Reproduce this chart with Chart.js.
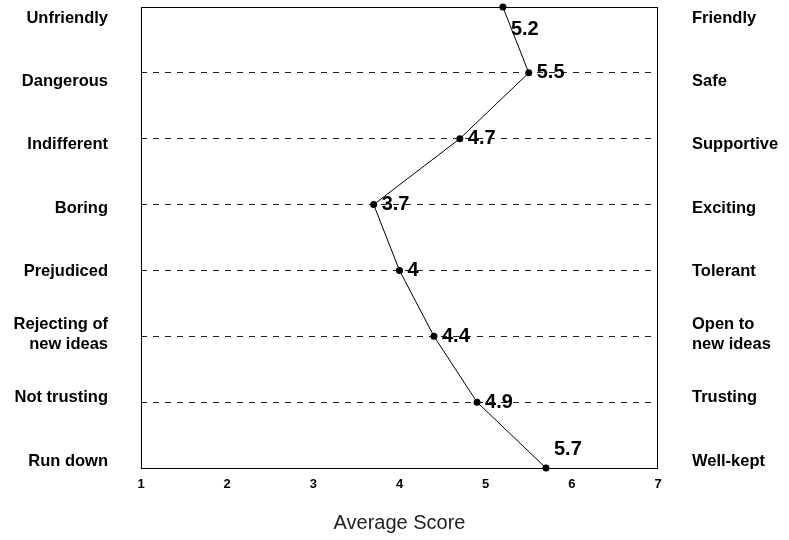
<!DOCTYPE html>
<html lang="en">
<head>
    <meta charset="UTF-8">
    <title>Average Score</title>
    <style>
        body { margin: 0; background: #fff; }
        canvas { display: block; }
    </style>
</head>
<body>
    <canvas id="grafico" width="789" height="540"></canvas>

    <script src="https://cdn.jsdelivr.net/npm/chart.js@4.4.1/dist/chart.umd.min.js"></script>
    <script>
        // dados
        var leftLabels = ['Unfriendly', 'Dangerous', 'Indifferent', 'Boring', 'Prejudiced', ['Rejecting of', 'new ideas'], 'Not trusting', 'Run down'];
        var rightLabels = ['Friendly', 'Safe', 'Supportive', 'Exciting', 'Tolerant', ['Open to', 'new ideas'], 'Trusting', 'Well-kept'];
        var scores = [5.2, 5.5, 4.7, 3.7, 4, 4.4, 4.9, 5.7];
        var scoreTicks = [1, 2, 3, 4, 5, 6, 7];

        var fonte = '"Liberation Sans", Arial, sans-serif';
        Chart.defaults.font.family = fonte;
        Chart.defaults.color = '#000';

        // moldura em volta da area do grafico
        var moldura = {
            id: 'moldura',
            beforeDatasetsDraw(chart) {
                var a = chart.chartArea;
                var ctx = chart.ctx;
                ctx.save();
                ctx.strokeStyle = '#000';
                ctx.lineWidth = 1;
                ctx.setLineDash([]);
                ctx.strokeRect(Math.round(a.left) + 0.5, Math.round(a.top) + 0.5, Math.round(a.right - a.left) - 1, Math.round(a.bottom - a.top));
                ctx.restore();
            }
        };

        // rotulos dos valores ao lado dos pontos
        var rotulos = {
            id: 'rotulos',
            afterDatasetsDraw(chart) {
                var ctx = chart.ctx;
                var pontos = chart.getDatasetMeta(0).data;
                ctx.save();
                ctx.font = 'bold 20px ' + fonte;
                ctx.fillStyle = '#000';
                ctx.textAlign = 'left';
                ctx.textBaseline = 'middle';
                pontos.forEach(function (p, i) {
                    var dy = 0;
                    if (i == 0) dy = 22;
                    if (i == pontos.length - 1) dy = -19;
                    ctx.fillText(String(scores[i]), p.x + 8, p.y + dy);
                });
                ctx.restore();
            }
        };

        function tiraPadding(scale) {
            scale.paddingTop = 0;
            scale.paddingBottom = 0;
            scale.paddingLeft = 0;
            scale.paddingRight = 0;
        }

        function eixoRotulos(lado, labels, largura, pad) {
            return {
                type: 'linear',
                position: lado,
                reverse: true,
                min: -0.1786,
                max: 7.1088,
                grid: { display: false, drawTicks: false },
                border: { display: false },
                ticks: {
                    padding: pad,
                    font: { size: 16.5, weight: 'bold', lineHeight: 1.22 },
                    color: '#000',
                    callback: function (v) { return labels[v]; }
                },
                afterBuildTicks: function (scale) {
                    scale.ticks = labels.map(function (_, i) { return { value: i }; });
                },
                afterFit: function (scale) {
                    scale.width = largura;
                    tiraPadding(scale);
                }
            };
        }

        var grafico = new Chart(document.getElementById('grafico').getContext('2d'), {
            type: 'scatter',
            data: {
                datasets: [{
                    data: scores.map(function (v, i) { return { x: v, y: i }; }),
                    showLine: true,
                    borderColor: '#000',
                    borderWidth: 1,
                    pointRadius: 3.5,
                    pointBackgroundColor: '#000',
                    pointBorderColor: '#000',
                    pointBorderWidth: 0,
                    clip: false
                }]
            },
            options: {
                responsive: false,
                animation: false,
                layout: { padding: { top: 7, left: 0, right: 0, bottom: 0 } },
                plugins: {
                    legend: { display: false },
                    tooltip: { enabled: false }
                },
                scales: {
                    x: {
                        type: 'linear',
                        position: 'bottom',
                        min: 1,
                        max: 7,
                        grid: { display: false, drawTicks: false },
                        border: { display: false },
                        afterBuildTicks: function (scale) {
                            scale.ticks = scoreTicks.map(function (v) { return { value: v }; });
                        },
                        ticks: {
                            padding: 9,
                            font: { size: 13, weight: 'bold' },
                            color: '#000'
                        },
                        title: {
                            display: true,
                            text: 'Average Score',
                            font: { size: 20 },
                            color: '#222',
                            padding: { top: 0, bottom: 5 }
                        },
                        afterFit: function (scale) {
                            scale.height = 72;
                            tiraPadding(scale);
                        }
                    },
                    y: {
                        type: 'linear',
                        position: 'left',
                        reverse: true,
                        min: 0,
                        max: 7,
                        weight: 0,
                        grid: {
                            color: '#222',
                            lineWidth: 1,
                            drawTicks: false
                        },
                        border: { display: false, dash: [6, 6] },
                        ticks: { display: false, stepSize: 1 },
                        afterFit: function (scale) {
                            scale.width = 0;
                            tiraPadding(scale);
                        }
                    },
                    yl: Object.assign(eixoRotulos('left', leftLabels, 141, 33), { weight: 1 }),
                    yr: eixoRotulos('right', rightLabels, 131, 34)
                }
            },
            plugins: [moldura, rotulos]
        });
    </script>
</body>
</html>
